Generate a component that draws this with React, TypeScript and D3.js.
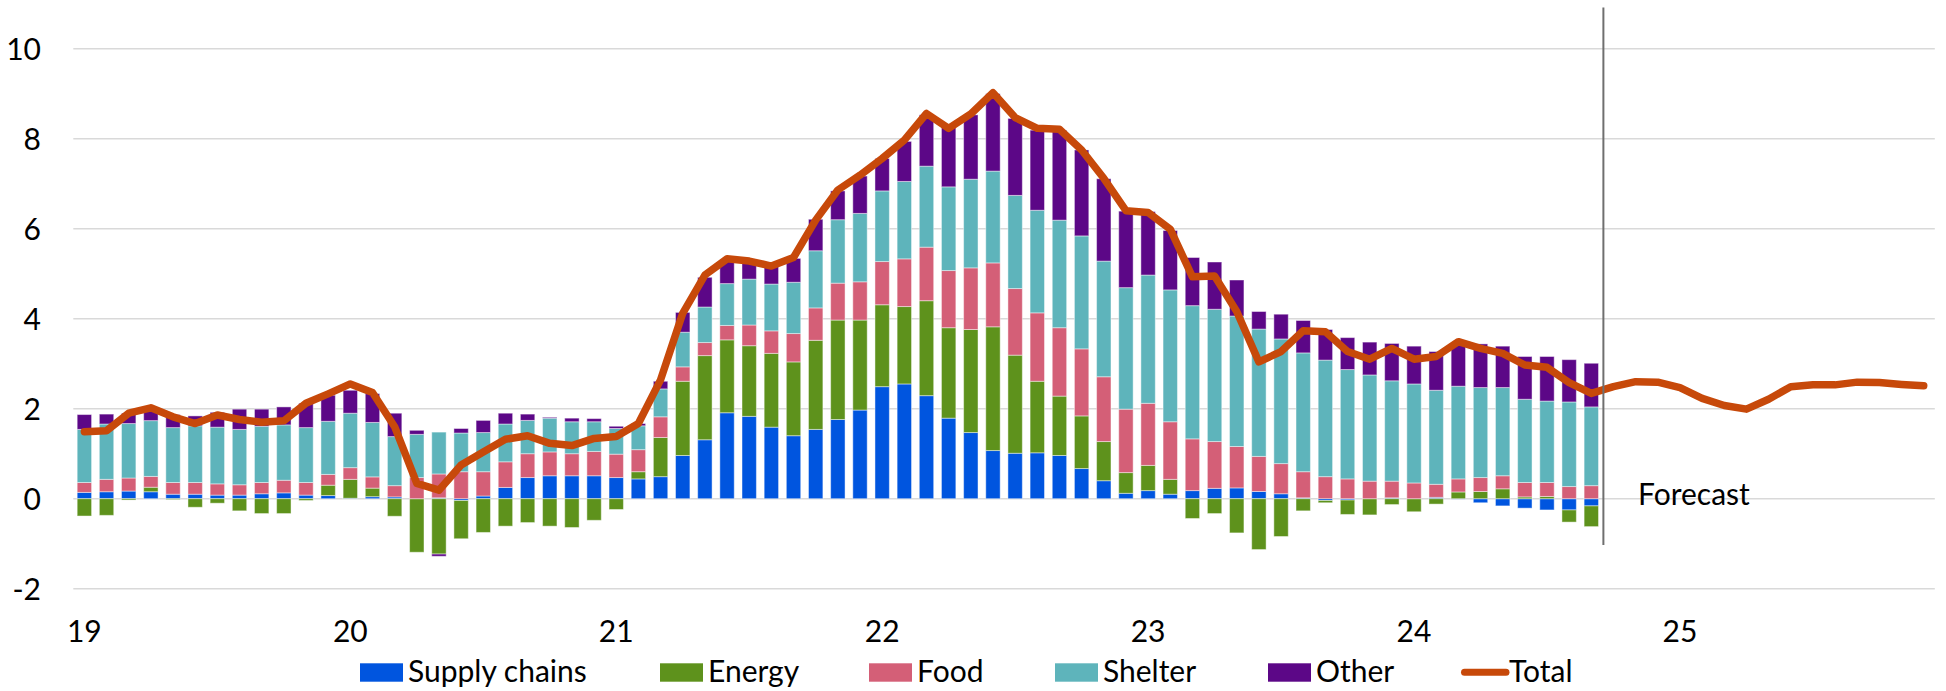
import React from 'react';
import * as d3 from 'd3';

// Year tick labels (placed at January of each year)
const yearLabels = ['19', '20', '21', '22', '23', '24', '25'];
const yTicks = [-2, 0, 2, 4, 6, 8, 10];

// Monthly contributions, Jan 2019 - Sep 2024
const supplyChains = [
  0.14, 0.155, 0.17, 0.155, 0.1, 0.1, 0.08, 0.08, 0.11, 0.13, 0.08, 0.07,
  0.01, 0.045, 0.04, 0, 0.02, -0.04, 0.06, 0.25, 0.47, 0.51, 0.51, 0.51,
  0.47, 0.44, 0.49, 0.96, 1.31, 1.91, 1.83, 1.59, 1.4, 1.54, 1.76, 1.97,
  2.49, 2.55, 2.29, 1.79, 1.47, 1.07, 1.01, 1.02, 0.96, 0.67, 0.4, 0.12,
  0.18, 0.1, 0.18, 0.23, 0.24, 0.16, 0.11, 0.02, -0.04, -0.03, 0, 0.02,
  0, 0.03, -0.01, -0.09, -0.16, -0.21, -0.25, -0.25, -0.16,
];
const energy = [
  -0.385, -0.37, -0.03, 0.1, -0.02, -0.19, -0.1, -0.27, -0.33, -0.33, -0.04, 0.23,
  0.42, 0.19, -0.39, -1.19, -1.23, -0.85, -0.75, -0.61, -0.53, -0.61, -0.64, -0.48,
  -0.24, 0.16, 0.87, 1.65, 1.87, 1.62, 1.57, 1.64, 1.64, 1.98, 2.21, 2.0,
  1.82, 1.72, 2.11, 2.01, 2.29, 2.75, 2.18, 1.59, 1.32, 1.17, 0.87, 0.46,
  0.56, 0.33, -0.44, -0.33, -0.76, -1.13, -0.84, -0.27, -0.05, -0.32, -0.36, -0.13,
  -0.29, -0.12, 0.15, 0.16, 0.22, 0.04, 0.05, -0.27, -0.46,
];
const food = [
  0.22, 0.275, 0.29, 0.24, 0.26, 0.26, 0.25, 0.23, 0.25, 0.28, 0.28, 0.24,
  0.26, 0.25, 0.25, 0.47, 0.53, 0.6, 0.54, 0.57, 0.53, 0.53, 0.49, 0.54,
  0.52, 0.49, 0.46, 0.32, 0.29, 0.32, 0.46, 0.5, 0.63, 0.72, 0.82, 0.85,
  0.96, 1.06, 1.19, 1.27, 1.37, 1.42, 1.48, 1.52, 1.52, 1.49, 1.44, 1.41,
  1.38, 1.28, 1.15, 1.04, 0.92, 0.78, 0.67, 0.58, 0.49, 0.44, 0.39, 0.37,
  0.35, 0.29, 0.29, 0.31, 0.29, 0.32, 0.31, 0.27, 0.29,
];
const shelter = [
  1.18, 1.23, 1.21, 1.24, 1.22, 1.26, 1.26, 1.23, 1.25, 1.23, 1.22, 1.18,
  1.21, 1.21, 1.09, 0.96, 0.93, 0.86, 0.87, 0.84, 0.74, 0.75, 0.71, 0.66,
  0.57, 0.53, 0.62, 0.77, 0.79, 0.93, 1.02, 1.04, 1.14, 1.27, 1.41, 1.52,
  1.57, 1.72, 1.8, 1.86, 1.97, 2.04, 2.07, 2.28, 2.39, 2.51, 2.57, 2.7,
  2.85, 2.93, 2.96, 2.94, 2.9, 2.83, 2.77, 2.64, 2.59, 2.43, 2.36, 2.23,
  2.2, 2.09, 2.06, 2.0, 1.96, 1.85, 1.81, 1.88, 1.75,
];
const other = [
  0.33, 0.22, 0.23, 0.25, 0.29, 0.22, 0.33, 0.45, 0.38, 0.4, 0.54, 0.58,
  0.51, 0.64, 0.52, 0.09, -0.05, 0.1, 0.27, 0.24, 0.14, 0.02, 0.08, 0.07,
  0.05, 0.05, 0.17, 0.44, 0.66, 0.49, 0.35, 0.4, 0.53, 0.7, 0.64, 0.83,
  0.72, 0.89, 1.14, 1.34, 1.43, 1.72, 1.71, 1.78, 2.0, 1.91, 1.83, 1.7,
  1.41, 1.32, 1.07, 1.05, 0.8, 0.39, 0.55, 0.72, 0.68, 0.71, 0.73, 0.83,
  0.84, 0.86, 0.94, 0.97, 0.92, 0.95, 0.99, 0.94, 0.97,
];
// Total, Jan 2019 - Dec 2025 (forecast from Oct 2024)
const total = [
  1.49, 1.51, 1.9, 2.02, 1.82, 1.67, 1.86, 1.76, 1.7, 1.73, 2.12, 2.33,
  2.55, 2.36, 1.6, 0.34, 0.19, 0.75, 1.04, 1.32, 1.4, 1.23, 1.18, 1.34,
  1.38, 1.67, 2.64, 4.12, 4.97, 5.33, 5.28, 5.17, 5.36, 6.19, 6.86, 7.19,
  7.56, 7.97, 8.56, 8.23, 8.55, 9.02, 8.47, 8.23, 8.21, 7.75, 7.12, 6.4,
  6.36, 5.99, 4.93, 4.95, 4.16, 3.04, 3.27, 3.73, 3.71, 3.27, 3.1, 3.34,
  3.1, 3.16, 3.49, 3.34, 3.23, 2.97, 2.92, 2.58, 2.34, 2.49, 2.6, 2.59,
  2.47, 2.23, 2.07, 1.99, 2.21, 2.49, 2.53, 2.53, 2.59, 2.58, 2.54, 2.51,
];

const seriesKeys = ['Supply chains', 'Energy', 'Food', 'Shelter', 'Other'];
const seriesValues = [supplyChains, energy, food, shelter, other];
const colors = ['#0055DF', '#5E921C', '#D45F77', '#5EB4BB', '#5C0787'];
const totalColor = '#C7490A';

const W = 1946;
const H = 691;
const FONT = 'Lato, "Open Sans", sans-serif';

export default function App() {
  const cats = total.map((_, i) => `${2019 + Math.floor(i / 12)}-${String((i % 12) + 1).padStart(2, '0')}`);
  const x = d3.scaleBand<string>().domain(cats).range([73.3, 1934.8]).paddingInner(0.35).paddingOuter(0.175);
  const y = d3.scaleLinear().domain([-2, 10]).range([588.7, 48.7]);
  const bw = x.bandwidth();
  const cx = (i: number) => (x(cats[i]) as number) + bw / 2;

  const rows = supplyChains.map((_, i) => {
    const r: any = { cat: cats[i] };
    seriesKeys.forEach((k, j) => (r[k] = seriesValues[j][i]));
    return r;
  });
  const stacked = d3.stack<any>().keys(seriesKeys).offset(d3.stackOffsetDiverging)(rows);

  const line = d3
    .line<number>()
    .x((_, i) => cx(i))
    .y((d) => y(d));

  const forecastX = (cx(68) + cx(69)) / 2 + 1;
  const legendItems = [
    { label: 'Supply chains', x: 360, color: colors[0], type: 'rect' },
    { label: 'Energy', x: 660, color: colors[1], type: 'rect' },
    { label: 'Food', x: 869, color: colors[2], type: 'rect' },
    { label: 'Shelter', x: 1055, color: colors[3], type: 'rect' },
    { label: 'Other', x: 1268, color: colors[4], type: 'rect' },
    { label: 'Total', x: 1461, color: totalColor, type: 'line' },
  ];

  return (
    <svg
      width={W}
      height={H}
      style={{ position: 'absolute', left: 0, top: 0, background: '#fff' }}
      fontFamily={FONT}
    >
      <rect x={0} y={0} width={W} height={H} fill="#fff" />
      {yTicks.map((t) => (
        <g key={t}>
          <line x1={73.3} x2={1934.8} y1={y(t)} y2={y(t)} stroke="#d9d9d9" strokeWidth={1.6} />
          <text x={41} y={y(t)} dy="0.36em" textAnchor="end" fontSize={30} fill="#000">
            {t}
          </text>
        </g>
      ))}
      {stacked.map((s, j) => (
        <g key={s.key} fill={colors[j]}>
          {s.map((d, i) => {
            const y0 = y(d[0]);
            const y1 = y(d[1]);
            const h = Math.abs(y0 - y1);
            if (h < 0.01) return null;
            return (
              <rect
                key={i}
                x={x(cats[i])}
                y={Math.min(y0, y1)}
                width={bw}
                height={h}
                stroke="rgba(255,255,255,0.45)"
                strokeWidth={1}
              />
            );
          })}
        </g>
      ))}
      <path
        d={line(total) || ''}
        fill="none"
        stroke={totalColor}
        strokeWidth={7.5}
        strokeLinejoin="round"
        strokeLinecap="round"
      />
      <line x1={forecastX} x2={forecastX} y1={7.5} y2={545} stroke="#6f6f6f" strokeWidth={2} />
      <text x={1638} y={505} fontSize={30} fill="#000">
        Forecast
      </text>
      {yearLabels.map((lab, k) => (
        <text key={lab} x={cx(k * 12)} y={642} textAnchor="middle" fontSize={30} fill="#000">
          {lab}
        </text>
      ))}
      {legendItems.map((it) => (
        <g key={it.label}>
          {it.type === 'rect' ? (
            <rect x={it.x} y={663.3} width={43} height={18.4} fill={it.color} />
          ) : (
            <line
              x1={it.x + 3.5}
              x2={it.x + 45}
              y1={672.3}
              y2={672.3}
              stroke={it.color}
              strokeWidth={7}
              strokeLinecap="round"
            />
          )}
          <text x={it.x + 48} y={681.5} fontSize={30} fill="#000">
            {it.label}
          </text>
        </g>
      ))}
    </svg>
  );
}
